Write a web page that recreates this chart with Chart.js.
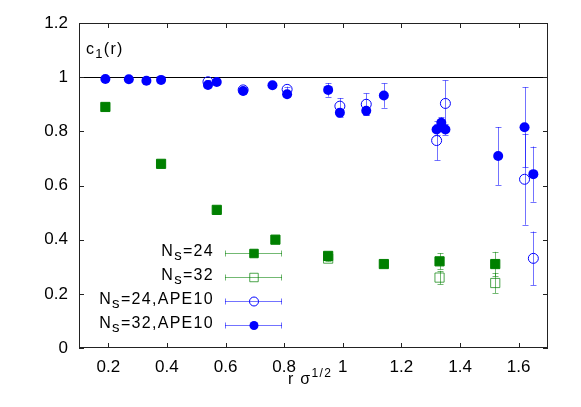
<!DOCTYPE html>
<html lang="en">
<head>
<meta charset="UTF-8">
<title>c1(r)</title>
<script src="https://cdn.jsdelivr.net/npm/chart.js"></script>
<style>
  * { margin: 0; padding: 0; box-sizing: border-box; }
  body { background: #fff; font-family: 'Liberation Sans', Arial, sans-serif; color: #000; }
  .wrap { position: relative; width: 581px; height: 407px; }
  #chart { position: absolute; left: 0; top: 0; }
  .lbl { position: absolute; font-size: 16px; line-height: 16px; white-space: nowrap; letter-spacing: 1.3px; }
  .sub { position: relative; top: 4px; font-size: 13px; }
  .sup { position: relative; top: -7px; font-size: 12px; }
  .legend { position: absolute; right: 367px; text-align: right; }
  .legend .sub { font-size: 15px; }
</style>
</head>
<body>
<div class="wrap">
  <canvas id="chart" width="581" height="407"></canvas>
  <div class="lbl" style="left:86px; top:41px;">c<span class="sub">1</span>(r)</div>
  <div class="lbl" style="left:288px; top:371px;">r σ<span class="sup">1/2</span></div>
  <div class="lbl legend" style="top:243px;">N<span class="sub">s</span>=24</div>
  <div class="lbl legend" style="top:267px;">N<span class="sub">s</span>=32</div>
  <div class="lbl legend" style="top:291px;">N<span class="sub">s</span>=24,APE10</div>
  <div class="lbl legend" style="top:315px;">N<span class="sub">s</span>=32,APE10</div>
</div>
<script>
// data
const xTicks = [0.2, 0.4, 0.6, 0.8, 1.0, 1.2, 1.4, 1.6];
const yTicks = [0, 0.2, 0.4, 0.6, 0.8, 1.0, 1.2];

const ns24X   = [0.19, 0.38, 0.57, 0.77, 0.95, 1.14, 1.33, 1.52];
const ns24Y   = [0.89, 0.68, 0.51, 0.40, 0.34, 0.31, 0.32, 0.31];
const ns24Err = [0.005, 0.005, 0.005, 0.005, 0.01, 0.01, 0.03, 0.045];

const ns32X   = [0.95, 1.33, 1.52];
const ns32Y   = [0.33, 0.26, 0.24];
const ns32Err = [0.01, 0.025, 0.037];

const ape24X   = [0.54, 0.66, 0.81, 0.99, 1.08, 1.32, 1.35, 1.62, 1.65];
const ape24Y   = [0.983, 0.953, 0.955, 0.893, 0.90, 0.766, 0.903, 0.623, 0.331];
const ape24Err = [0.005, 0.01, 0.01, 0.03, 0.04, 0.073, 0.085, 0.168, 0.099];

const ape32X   = [0.19, 0.27, 0.33, 0.38, 0.54, 0.57, 0.66, 0.76, 0.81, 0.95, 0.99, 1.08, 1.14, 1.32, 1.336, 1.35, 1.53, 1.62, 1.65];
const ape32Y   = [0.993, 0.992, 0.987, 0.99, 0.971, 0.982, 0.949, 0.97, 0.937, 0.953, 0.869, 0.876, 0.932, 0.807, 0.832, 0.807, 0.709, 0.815, 0.642];
const ape32Err = [0.005, 0.005, 0.005, 0.005, 0.005, 0.005, 0.01, 0.005, 0.01, 0.025, 0.015, 0.015, 0.045, 0.02, 0.02, 0.02, 0.107, 0.148, 0.102];

const green = '#008000';
const greenErr = 'rgba(0,128,0,0.55)';
const blue = '#0000ff';
const blueErr = 'rgba(0,0,255,0.55)';

const toPts = (xs, ys) => xs.map((x, i) => ({ x: x, y: ys[i] }));

const datasets = [
  { label: 'Ns=24', data: toPts(ns24X, ns24Y), errs: ns24Err, errColor: greenErr, order: 3,
    pointStyle: 'rect', pointRadius: 6.5, backgroundColor: green, borderColor: green, borderWidth: 1 },
  { label: 'Ns=32', data: toPts(ns32X, ns32Y), errs: ns32Err, errColor: greenErr, order: 2,
    pointStyle: 'rect', pointRadius: 6.5, backgroundColor: 'rgba(0,0,0,0)', borderColor: 'rgba(0,128,0,0.7)', borderWidth: 1 },
  { label: 'Ns=24,APE10', data: toPts(ape24X, ape24Y), errs: ape24Err, errColor: blueErr, order: 1,
    pointStyle: 'circle', pointRadius: 5, backgroundColor: 'rgba(0,0,0,0)', borderColor: blue, borderWidth: 1 },
  { label: 'Ns=32,APE10', data: toPts(ape32X, ape32Y), errs: ape32Err, errColor: blueErr, order: 0,
    pointStyle: 'circle', pointRadius: 5, backgroundColor: blue, borderColor: blue, borderWidth: 0 }
];

const fmt = v => String(Math.round(v * 10) / 10);

// frame, inward ticks, y=1 line and error bars (under the points)
const decor = {
  id: 'decor',
  beforeDatasetsDraw(chart) {
    const ctx = chart.ctx, a = chart.chartArea;
    const xs = chart.scales.x, ys = chart.scales.y;
    ctx.save();
    ctx.strokeStyle = '#000';
    ctx.lineWidth = 1;
    ctx.beginPath();
    const y1 = Math.round(ys.getPixelForValue(1)) + 0.5;
    ctx.moveTo(a.left, y1); ctx.lineTo(a.right, y1);
    ctx.stroke();

    chart.data.datasets.forEach(ds => {
      ctx.strokeStyle = ds.errColor;
      ds.data.forEach((p, i) => {
        const px = Math.round(xs.getPixelForValue(p.x)) + 0.5;
        const top = ys.getPixelForValue(p.y + ds.errs[i]);
        const bot = ys.getPixelForValue(p.y - ds.errs[i]);
        ctx.beginPath();
        ctx.moveTo(px, top); ctx.lineTo(px, bot);
        ctx.moveTo(px - 3, Math.round(top) + 0.5); ctx.lineTo(px + 3, Math.round(top) + 0.5);
        ctx.moveTo(px - 3, Math.round(bot) + 0.5); ctx.lineTo(px + 3, Math.round(bot) + 0.5);
        ctx.stroke();
      });
    });
    ctx.restore();
  },
  afterDraw(chart) {
    const ctx = chart.ctx, a = chart.chartArea;
    const xs = chart.scales.x, ys = chart.scales.y;
    const tl = 5;
    ctx.save();
    ctx.strokeStyle = '#222';
    ctx.lineWidth = 1;
    ctx.strokeRect(a.left + 0.5, a.top + 0.5, a.right - a.left - 1, a.bottom - a.top - 1);
    ctx.beginPath();
    xTicks.forEach(v => {
      const px = Math.round(xs.getPixelForValue(v)) + 0.5;
      ctx.moveTo(px, a.bottom); ctx.lineTo(px, a.bottom - tl);
      ctx.moveTo(px, a.top); ctx.lineTo(px, a.top + tl);
    });
    yTicks.forEach(v => {
      const py = Math.round(ys.getPixelForValue(v)) + 0.5;
      ctx.moveTo(a.left, py); ctx.lineTo(a.left + tl, py);
      ctx.moveTo(a.right, py); ctx.lineTo(a.right - tl, py);
    });
    ctx.stroke();

    // legend samples
    const rowsY = [253, 277, 301, 325];
    const x0 = 225, x1 = 282, xm = 254;
    chart.data.datasets.forEach((ds, i) => {
      const y = rowsY[i] + 0.5;
      ctx.strokeStyle = ds.errColor;
      ctx.beginPath();
      ctx.moveTo(x0, y); ctx.lineTo(x1, y);
      ctx.moveTo(x0 + 0.5, y - 3); ctx.lineTo(x0 + 0.5, y + 3);
      ctx.moveTo(x1 - 0.5, y - 3); ctx.lineTo(x1 - 0.5, y + 3);
      ctx.stroke();
      ctx.fillStyle = ds.backgroundColor;
      ctx.strokeStyle = ds.borderColor;
      ctx.lineWidth = ds.borderWidth;
      Chart.helpers.drawPoint(ctx, {
        pointStyle: ds.pointStyle,
        radius: ds.pointStyle === 'rect' ? 6 : 4.5,
        rotation: 0,
        borderWidth: ds.borderWidth
      }, xm, y);
      ctx.lineWidth = 1;
    });
    ctx.restore();
  }
};

new Chart(document.getElementById('chart'), {
  type: 'scatter',
  data: { datasets: datasets },
  options: {
    responsive: false,
    animation: false,
    layout: { padding: { top: 23, right: 33, left: 0, bottom: 0 } },
    plugins: { legend: { display: false }, tooltip: { enabled: false } },
    scales: {
      x: {
        type: 'linear', min: 0.1, max: 1.7,
        afterBuildTicks: s => { s.ticks = xTicks.map(v => ({ value: v })); },
        afterFit: s => { s.height = 59; },
        grid: { display: false, drawTicks: false },
        border: { display: false },
        ticks: { color: '#000', font: { family: 'Liberation Sans', size: 17 }, padding: 9,
                 maxRotation: 0, autoSkip: false, callback: fmt }
      },
      y: {
        type: 'linear', min: 0, max: 1.2,
        afterBuildTicks: s => { s.ticks = yTicks.map(v => ({ value: v })); },
        afterFit: s => { s.width = 79; },
        grid: { display: false, drawTicks: false },
        border: { display: false },
        ticks: { color: '#000', font: { family: 'Liberation Sans', size: 17 }, padding: 11,
                 callback: fmt }
      }
    }
  },
  plugins: [decor]
});
</script>
</body>
</html>
